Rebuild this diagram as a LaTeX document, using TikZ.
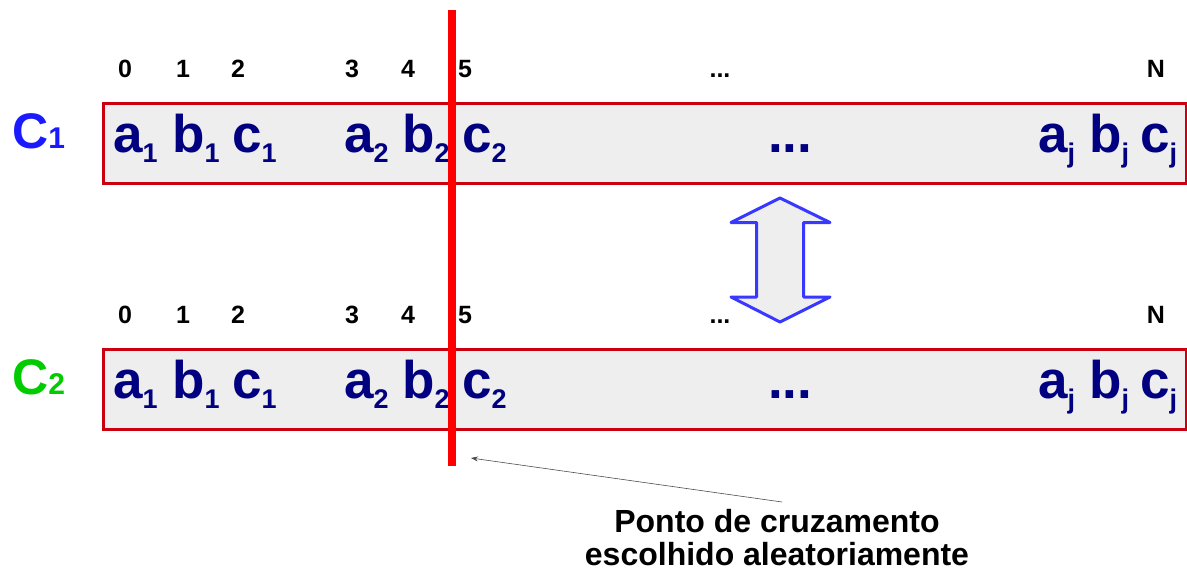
\documentclass[tikz,border=0pt]{standalone}
\usepackage{fontspec}
\setmainfont{Liberation Sans}
\usetikzlibrary{arrows.meta}
\definecolor{boxred}{HTML}{C8000F}
\definecolor{boxfill}{HTML}{EEEEEE}
\definecolor{navy}{HTML}{000080}
\definecolor{cblue}{HTML}{1A1AFF}
\definecolor{cgreen}{HTML}{00CC00}
\definecolor{arrblue}{HTML}{3838FF}
\newcommand{\gene}[2]{#1\raisebox{-10pt}{\fontsize{27}{27}\selectfont #2}}
\tikzset{
  chrom/.style={draw=boxred, fill=boxfill, line width=3pt},
  genetxt/.style={anchor=base west, inner sep=0pt, text=navy, font=\fontsize{53}{53}\selectfont\bfseries},
  idx/.style={anchor=base, inner sep=0pt, font=\fontsize{25}{25}\selectfont\bfseries},
  clabel/.style={anchor=base west, inner sep=0pt, font=\fontsize{50}{50}\selectfont\bfseries},
  note/.style={anchor=base, inner sep=0pt, font=\fontsize{32}{32}\selectfont\bfseries}
}
\begin{document}
\begin{tikzpicture}[x=1pt,y=-1pt]
\useasboundingbox (0,0) rectangle (1187,571);
% chromosomes
\node[chrom, minimum width=1083pt, minimum height=80pt, inner sep=0pt, anchor=north west] (box1) at (101.5,101.5) {};
\node[chrom, minimum width=1083pt, minimum height=80pt, inner sep=0pt, anchor=north west] (box2) at (101.5,347.5) {};
% labels C1 C2
\node[clabel, text=cblue] (c1) at (12,148) {C{\fontsize{30}{30}\selectfont 1}};
\node[clabel, text=cgreen] (c2) at (12,394) {C{\fontsize{30}{30}\selectfont 2}};
% index rows
\foreach \r/\y in {1/77, 2/323}{
  \node[idx] (i0\r) at (125,\y) {0};
  \node[idx] (i1\r) at (183,\y) {1};
  \node[idx] (i2\r) at (238,\y) {2};
  \node[idx] (i3\r) at (352,\y) {3};
  \node[idx] (i4\r) at (408,\y) {4};
  \node[idx] (i5\r) at (465,\y) {5};
  \node[idx] (idots\r) at (720,\y) {...};
  \node[idx] (iN\r) at (1156,\y) {N};
}
% genes
\foreach \r/\y in {1/152, 2/398}{
  \node[genetxt] (ga1\r) at (113,\y) {\gene{a}{1}};
  \node[genetxt] (gb1\r) at (172,\y) {\gene{b}{1}};
  \node[genetxt] (gc1\r) at (232,\y) {\gene{c}{1}};
  \node[genetxt] (ga2\r) at (344,\y) {\gene{a}{2}};
  \node[genetxt] (gb2\r) at (402,\y) {\gene{b}{2}};
  \node[genetxt] (gc2\r) at (462,\y) {\gene{c}{2}};
  \node[genetxt] (gdots\r) at (768,\y) {...};
  \node[genetxt] (gaj\r) at (1038,\y) {\gene{a}{j}};
  \node[genetxt] (gbj\r) at (1089,\y) {\gene{b}{j}};
  \node[genetxt] (gcj\r) at (1140,\y) {\gene{c}{j}};
}
% crossover line
\coordinate (cutTop) at (451.5,10);
\coordinate (cutBot) at (451.5,466);
\draw[red, line width=8pt] (cutTop) -- (cutBot);
% double arrow
\draw[arrblue, fill=boxfill, line width=3pt, line join=round]
  (780,198) -- (830,222.5) -- (803.5,222.5) -- (803.5,297) -- (830,297) -- (780,322)
  -- (731,297) -- (756.5,297) -- (756.5,222.5) -- (731,222.5) -- cycle;
% annotation
\node[note] (note1) at (777,532) {Ponto de cruzamento};
\node[note] (note2) at (777,565) {escolhido aleatoriamente};
\coordinate (arrStart) at (782,502);
\coordinate (arrEnd) at (471,458);
\draw[-{Stealth[length=7pt,width=5pt]}, line width=0.6pt, black!70] (arrStart) -- (arrEnd);
\end{tikzpicture}
\end{document}
